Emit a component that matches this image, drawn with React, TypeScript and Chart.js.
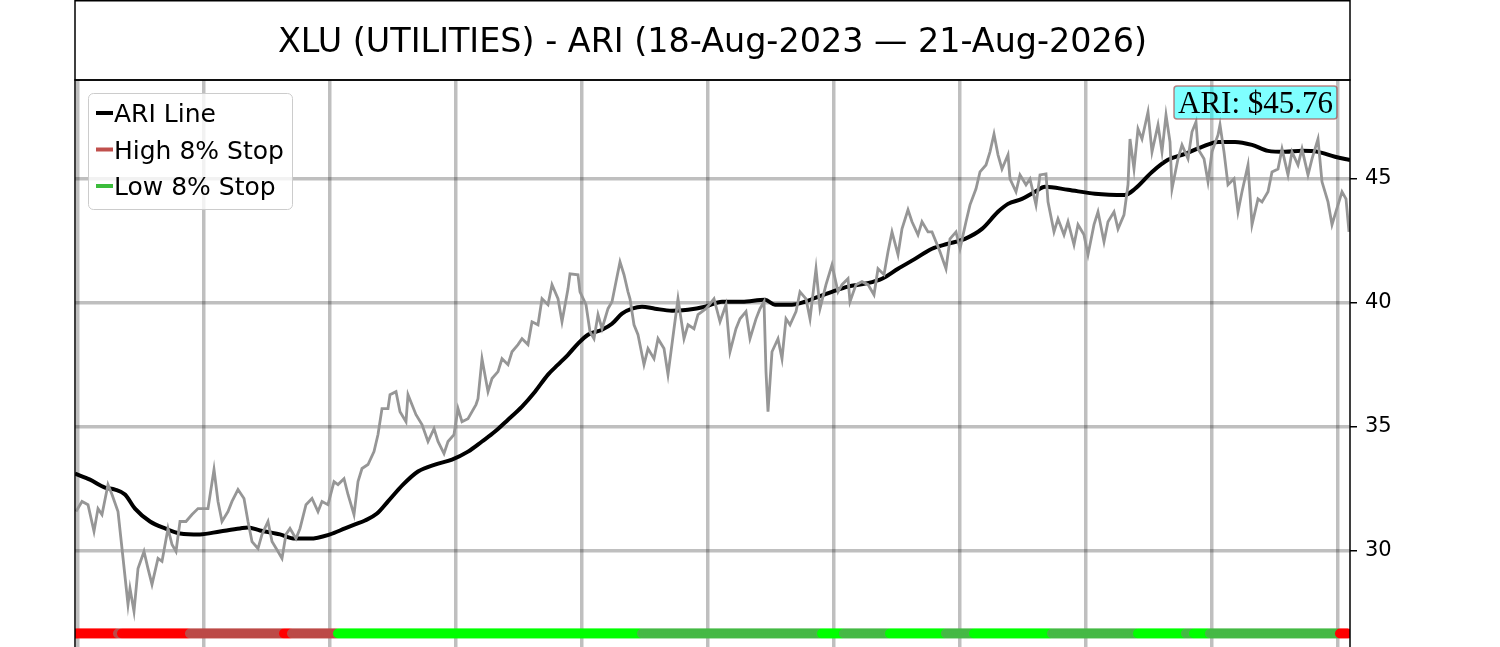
import React, { useEffect, useRef } from "react";
import { Chart, registerables } from "chart.js";

Chart.register(...registerables);

const TITLE = "XLU (UTILITIES) - ARI (18-Aug-2023 — 21-Aug-2026)";
const ARI_LABEL = "ARI: $45.76";

// trading-day index of each price sample
const priceDays = [
  -1, 2, 5, 8, 10, 12, 15, 17, 20, 22, 25, 26, 28, 30, 33, 35, 37, 40, 42, 45, 47, 49, 51, 54, 57, 60, 65, 68, 70, 72,
  75, 77, 80, 83, 85, 87, 90, 92, 95, 97, 100, 102, 104, 106, 109, 111, 114, 117, 120, 122, 125, 128, 130, 133, 135,
  138, 140, 142, 145, 148, 150, 152, 155, 156, 159, 161, 164, 165, 169, 172, 175, 178, 180, 183, 185, 188, 190, 192,
  195, 199, 200, 202, 205, 207, 210, 212, 215, 217, 220, 222, 225, 227, 230, 232, 235, 237, 240, 242, 245, 246, 250,
  251, 254, 256, 258, 260, 262, 265, 267, 269, 271, 273, 275, 276, 278, 280, 283, 285, 288, 290, 293, 295, 298, 300,
  303, 305, 308, 310, 314, 318, 321, 324, 326, 329, 331, 334, 336, 339, 341, 343, 344, 345, 347, 350, 352, 354, 356,
  359, 361, 364, 366, 369, 371, 374, 377, 380, 382, 385, 386, 389, 392, 395, 398, 400, 403, 405, 407, 410, 412, 415,
  417, 420, 422, 425, 427, 429, 431, 434, 436, 439, 441, 444, 446, 449, 451, 454, 456, 458, 460, 462, 465, 466, 469,
  471, 474, 476, 479, 481, 484, 485, 488, 490, 493, 495, 498, 500, 503, 505, 508, 510, 513, 515, 518, 520, 523, 525,
  526, 528, 530, 532, 535, 537, 540, 542, 544, 546, 547, 550, 552, 555, 557, 559, 560, 563, 565, 567, 570, 571, 573,
  575, 578, 580, 582, 585, 587, 590, 592, 595, 597, 600, 602, 605, 607, 610, 612, 615, 617, 620, 622, 625, 627, 630,
  632, 634, 635.5,
];
const priceValues = [
  31.57, 31.98, 31.85, 30.77, 31.69, 31.45, 32.66, 32.26, 31.57, 30.08, 27.82, 28.47, 27.54, 29.27, 29.96, 29.27,
  28.63, 29.68, 29.56, 30.89, 30.24, 29.96, 31.17, 31.17, 31.45, 31.69, 31.69, 33.27, 31.98, 31.17,
  31.57, 31.98, 32.46, 32.1, 31.17, 30.36, 30.08, 30.65, 31.17, 30.36, 29.96, 29.68, 30.65, 30.89, 30.48, 30.89,
  31.85, 32.1, 31.57, 31.98, 31.85, 32.78, 32.66, 32.9, 32.26,
  31.45, 32.78, 33.31, 33.47, 33.99, 34.68, 35.73, 35.73, 36.29, 36.41, 35.6, 35.2, 36.29, 35.48, 35.08, 34.4, 34.92,
  34.4, 33.91, 34.4, 34.68, 35.73, 35.2,
  35.32, 35.89, 36.13, 37.74, 36.41, 36.94, 37.22, 37.74, 37.5, 38.02, 38.31, 38.55, 38.31, 39.23, 39.11, 40.16,
  39.92, 40.73, 40.16, 39.23, 40.56, 41.17, 41.13,
  40.44, 39.92, 38.83, 38.55, 39.52, 38.95, 39.76, 40.04, 40.85, 41.65, 41.13, 40.44, 40.16, 39.11, 38.71, 37.5,
  38.15, 37.74, 38.55, 38.15, 37.1, 38.95, 40.16,
  38.55, 39.11, 38.95, 39.52, 39.76, 40.16, 39.23, 39.92, 38.02, 38.95, 39.35, 39.64, 38.55, 39.35, 39.76, 40.04,
  37.22, 35.6, 38.02, 38.55, 37.74, 39.35, 39.11,
  39.64, 40.44, 40.16, 39.35, 41.37, 39.76, 40.73, 41.53, 40.44, 40.73, 40.97, 40.04, 40.73, 40.85, 40.73, 40.32,
  41.37, 41.13, 42.06, 42.86, 41.94, 42.98, 43.75,
  43.27, 42.74, 43.27, 42.86, 42.86, 42.46, 42.06, 41.37, 42.58, 42.86, 42.18, 43.27, 43.95, 44.6, 45.28, 45.56,
  46.09, 46.81, 45.97, 45.4, 45.97, 45.0, 44.48,
  45.16, 44.76, 45.0, 43.95, 45.16, 45.2, 44.07, 42.86, 43.39, 42.74, 43.27, 42.34, 43.15, 42.74, 41.94, 43.15,
  43.67, 42.46, 43.27, 43.67, 42.98, 43.55, 44.76,
  46.61, 45.4, 47.02, 46.61, 47.7, 46.09, 47.18, 46.09, 47.58, 46.49, 44.6, 45.81, 46.37, 45.81, 46.9, 47.3, 46.21,
  45.81, 44.88, 46.09, 46.77, 47.18, 46.09,
  44.76, 45.0, 43.67, 44.48, 45.56, 43.15, 44.19, 44.07, 44.48, 45.28, 45.4, 46.21, 45.16, 46.09, 45.56, 46.21,
  45.16, 45.81, 46.61, 44.88, 44.07, 43.15, 43.95,
  44.48, 44.19, 42.86,
];

// ARI line samples
const ariDays = [
  -1.5, 6, 13.5, 18.5, 23.5, 28.5, 36, 43.5, 51, 61, 71, 81, 85, 91, 101, 108.5, 116, 126, 133.5, 138.5, 143.5, 149.5,
  155, 162.5, 170, 178.5, 187, 195, 202, 208.5, 215, 222, 228.5, 235, 240, 245, 250, 255, 262, 267, 272, 277, 282,
  288.5, 297, 305, 313.5, 322, 332, 343.5, 348.5, 357, 363.5, 370, 377, 385, 393.5, 402, 410, 418.5, 427, 435, 443.5,
  452, 460, 465, 472, 478.5, 483.5, 495, 508.5, 523.5, 528.5, 537, 545, 553.5, 562, 570, 578.5, 587, 595, 603.5, 612,
  620, 628.5, 636,
];
const ariValues = [
  33.1, 32.86, 32.54, 32.46, 32.26, 31.69, 31.17, 30.89, 30.69, 30.65, 30.77, 30.89, 30.93, 30.81, 30.65, 30.48,
  30.48, 30.65, 30.89, 31.05, 31.21, 31.49,
  31.98, 32.66, 33.19, 33.47, 33.67, 33.99, 34.4, 34.8, 35.28, 35.81, 36.41, 37.1, 37.5, 37.9, 38.35, 38.71, 38.91,
  39.15, 39.56, 39.76, 39.84,
  39.76, 39.68, 39.72, 39.84, 40.04, 40.04, 40.12, 39.92, 39.92, 40.04, 40.24, 40.44, 40.65, 40.77, 40.97, 41.37,
  41.77, 42.18, 42.38, 42.58,
  42.98, 43.67, 43.99, 44.19, 44.48, 44.68, 44.56, 44.4, 44.35, 44.6, 45.28, 45.77, 46.01, 46.29, 46.49, 46.49, 46.37,
  46.13, 46.09, 46.13,
  46.09, 45.89, 45.76,
];

// stop-state band: first day of each run and its state
const stopStartDays = [-1, 20, 22, 56, 103, 107, 130, 282, 372, 383, 406, 434, 448, 487, 530, 554, 558, 566, 631];
const stopStates = ["R", "D", "R", "D", "R", "D", "G", "g", "G", "g", "G", "g", "G", "g", "G", "g", "G", "g", "R"];
const stopBandLevel = 26.65;
const lastDay = 635;

const xGridDays = [0, 63, 126, 189, 252, 315, 378, 441, 504, 567, 630];
const yTickValues = [30, 35, 40, 45];
const legendLabels = ["ARI Line", "High 8% Stop", "Low 8% Stop"];

const STATE_COLORS: Record<string, string> = {
  R: "#ff0000",
  D: "#bc4a47",
  G: "#00ff00",
  g: "#45b945",
};
const LEGEND_COLORS = ["#000000", "#c0504d", "#3cbc3c"];

function buildStopBand() {
  const pts: { x: number; y: number }[] = [];
  const cols: string[] = [];
  let seg = 0;
  for (let d = stopStartDays[0]; d <= lastDay; d++) {
    while (seg + 1 < stopStartDays.length && d >= stopStartDays[seg + 1]) seg++;
    pts.push({ x: d, y: stopBandLevel });
    cols.push(STATE_COLORS[stopStates[seg]]);
  }
  return { pts, cols };
}

const decorPlugin = {
  id: "decor",
  afterDatasetsDraw(chart: any) {
    const { ctx, chartArea } = chart;
    const { left, right, top, bottom } = chartArea;
    ctx.save();
    ctx.strokeStyle = "#000";
    ctx.lineWidth = 1.5;
    ctx.beginPath();
    ctx.moveTo(left, bottom);
    ctx.lineTo(left, top);
    ctx.lineTo(right, top);
    ctx.lineTo(right, bottom);
    ctx.stroke();
    ctx.restore();
  },
  afterDraw(chart: any) {
    const { ctx, chartArea } = chart;
    const { left, right, top } = chartArea;
    ctx.save();
    // title box
    ctx.strokeStyle = "#000";
    ctx.lineWidth = 1.5;
    ctx.strokeRect(left, 0.75, right - left, top - 0.75);
    ctx.fillStyle = "#000";
    ctx.font = '33.4px "DejaVu Sans"';
    ctx.textAlign = "center";
    ctx.textBaseline = "alphabetic";
    ctx.fillText(TITLE, (left + right) / 2, 52);

    // legend
    const lx = 88, ly = 93, lw = 204, lh = 116;
    ctx.beginPath();
    ctx.roundRect(lx + 0.5, ly + 0.5, lw, lh, 5);
    ctx.fillStyle = "rgba(255,255,255,0.8)";
    ctx.fill();
    ctx.strokeStyle = "#cccccc";
    ctx.lineWidth = 1;
    ctx.stroke();
    ctx.font = '25px "DejaVu Sans"';
    ctx.textAlign = "left";
    legendLabels.forEach((lab, i) => {
      const y = 113 + i * 36.5;
      ctx.strokeStyle = LEGEND_COLORS[i];
      ctx.lineWidth = 4;
      ctx.beginPath();
      ctx.moveTo(96, y);
      ctx.lineTo(113, y);
      ctx.stroke();
      ctx.fillStyle = "#000";
      ctx.fillText(lab, 114, y + 9);
    });

    // last value annotation
    ctx.font = '31px "Liberation Serif"';
    const tw = ctx.measureText(ARI_LABEL).width;
    const bx1 = 1337, bx0 = bx1 - tw - 8, by0 = 86, by1 = 119;
    ctx.beginPath();
    ctx.roundRect(bx0, by0, bx1 - bx0, by1 - by0, 3);
    ctx.fillStyle = "rgba(0,255,255,0.5)";
    ctx.fill();
    ctx.strokeStyle = "rgba(170,80,80,0.7)";
    ctx.lineWidth = 1.5;
    ctx.stroke();
    ctx.fillStyle = "#000";
    ctx.textAlign = "left";
    ctx.fillText(ARI_LABEL, bx0 + 4, 113);
    ctx.restore();
  },
};

export default function App() {
  const ref = useRef<HTMLCanvasElement | null>(null);
  useEffect(() => {
    if (!ref.current) return;
    const band = buildStopBand();
    const gridColor = "rgba(0,0,0,0.25)";
    const chart = new Chart(ref.current, {
      type: "line",
      data: {
        datasets: [
          {
            label: "Price",
            data: priceDays.map((d, i) => ({ x: d, y: priceValues[i] })),
            borderColor: "#969696",
            borderWidth: 2.8,
            pointRadius: 0,
            tension: 0,
            order: 1,
            clip: 0,
          },
          {
            label: "ARI Line",
            data: ariDays.map((d, i) => ({ x: d, y: ariValues[i] })),
            borderColor: "#000000",
            borderWidth: 4,
            pointRadius: 0,
            cubicInterpolationMode: "monotone",
            order: 2,
            clip: 0,
          },
          {
            label: "Stops",
            data: band.pts,
            showLine: false,
            pointRadius: 5,
            pointBorderWidth: 0,
            pointBackgroundColor: band.cols,
            pointBorderColor: band.cols,
            order: 3,
            clip: 0,
          },
        ],
      } as any,
      options: {
        animation: false,
        responsive: false,
        devicePixelRatio: 1,
        layout: { padding: { left: 75, top: 80, right: 0, bottom: 20 } },
        plugins: { legend: { display: false }, tooltip: { enabled: false }, title: { display: false } },
        scales: {
          x: {
            type: "linear",
            min: -1.5,
            max: 636,
            afterBuildTicks: (s: any) => {
              s.ticks = xGridDays.map((v) => ({ value: v }));
            },
            afterFit: (s: any) => {
              s.height = 0;
            },
            ticks: { display: false },
            grid: { color: gridColor, lineWidth: 3.5, drawTicks: false },
            border: { display: false },
          },
          y: {
            type: "linear",
            position: "right",
            min: 23.99,
            max: 48.99,
            afterBuildTicks: (s: any) => {
              s.ticks = yTickValues.map((v) => ({ value: v }));
            },
            afterFit: (s: any) => {
              s.width = 150;
            },
            ticks: {
              color: "#000",
              font: { family: "DejaVu Sans", size: 21 },
              padding: 8,
            },
            grid: { color: gridColor, lineWidth: 3.5, tickColor: "#000", tickWidth: 1.5, tickLength: 7 },
            border: { display: false },
          },
        },
      } as any,
      plugins: [decorPlugin],
    });
    return () => chart.destroy();
  }, []);

  return (
    <div style={{ position: "fixed", left: 0, top: 0, width: 1500, height: 647, overflow: "hidden", background: "#fff" }}>
      <canvas ref={ref} width={1500} height={720} style={{ display: "block", width: 1500, height: 720 }} />
    </div>
  );
}
